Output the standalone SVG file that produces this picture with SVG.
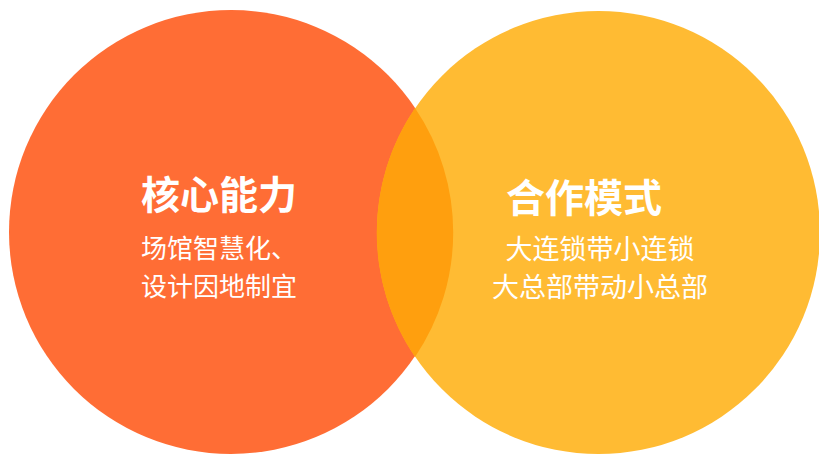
<svg xmlns="http://www.w3.org/2000/svg" width="819" height="454" viewBox="0 0 819 454">
<style>
.t{font-family:"Noto Sans CJK SC","Noto Sans",sans-serif;fill:#ffffff}
.h{font-size:39px;font-weight:700}
.s{font-size:26px;font-weight:400}
.r{font-size:27px}
</style>
<rect width="819" height="454" fill="#ffffff"/>
<g id="core">
<circle cx="231" cy="232" r="222" fill="#FF6D35"/>
</g>
<g id="mode">
<circle cx="598.5" cy="232.5" r="221.5" fill="#FFBB33"/>
</g>
<g id="overlap">
<path d="M415,108 A222,222 0 0 1 415,357 A221.5,221.5 0 0 1 415,108 Z" fill="#FF9F0E"/>
</g>
<g id="core-text">
<text class="t h" x="141" y="209">核心能力</text>
<text class="t s" x="141" y="258">场馆智慧化、</text>
<text class="t s" x="141" y="296">设计因地制宜</text>
</g>
<g id="mode-text">
<text class="t h" x="584" y="212" text-anchor="middle">合作模式</text>
<text class="t s r" x="600" y="259" text-anchor="middle">大连锁带小连锁</text>
<text class="t s r" x="600" y="297" text-anchor="middle">大总部带动小总部</text>
</g>
<g id="connectors"/>
</svg>
